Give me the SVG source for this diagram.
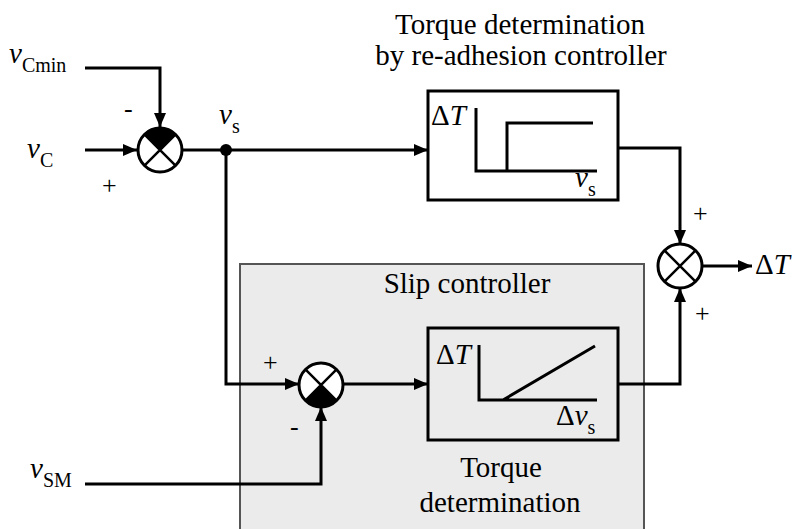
<svg xmlns="http://www.w3.org/2000/svg" width="798" height="529" viewBox="0 0 798 529">
<style>
text{font-family:'Liberation Serif','Times New Roman',Times,serif}
.t{font-size:29px;fill:#000}
.i{font-style:italic}
.sub{font-size:20px;font-style:normal}
.ln{fill:none;stroke:#000;stroke-width:3}
.sum{fill:#fff;stroke:#000;stroke-width:3}
.x{stroke:#000;stroke-width:2.5}
.sign{font-size:26px;fill:#000}
</style>
<defs>
<marker id="ah" markerUnits="userSpaceOnUse" markerWidth="16" markerHeight="14" refX="14" refY="7" orient="auto">
<path d="M0,1 L14,7 L0,13 Z" fill="#000"/>
</marker>
</defs>
<rect width="798" height="529" fill="#fff"/>
<g id="slip-controller" font-family="Liberation Serif">
<rect x="240" y="264" width="404" height="275" fill="#ebebeb" stroke="#555" stroke-width="2"/>
<text class="t" font-family="Liberation Serif" x="467" y="293" text-anchor="middle">Slip controller</text>
<text class="t" font-family="Liberation Serif" x="501" y="477" text-anchor="middle">Torque</text>
<text class="t" font-family="Liberation Serif" x="500" y="512" text-anchor="middle">determination</text>
</g>
<g id="title">
<text class="t" font-family="Liberation Serif" x="520" y="34" text-anchor="middle">Torque determination</text>
<text class="t" font-family="Liberation Serif" x="521" y="65" text-anchor="middle">by re-adhesion controller</text>
</g>
<g id="connectors">
<path class="ln" d="M85,68 H160 V127" marker-end="url(#ah)"/>
<path class="ln" d="M85,150 H137" marker-end="url(#ah)"/>
<path class="ln" d="M182,150 H428" marker-end="url(#ah)"/>
<path class="ln" d="M226,150 V384 H299" marker-end="url(#ah)"/>
<path class="ln" d="M85,484 H321 V407" marker-end="url(#ah)"/>
<path class="ln" d="M343,384 H428" marker-end="url(#ah)"/>
<path class="ln" d="M618,148 H680 V244" marker-end="url(#ah)"/>
<path class="ln" d="M618,384 H680 V288" marker-end="url(#ah)"/>
<path class="ln" d="M702,266 H752" marker-end="url(#ah)"/>
<circle cx="226" cy="150" r="6" fill="#000"/>
</g>
<g id="inputs">
<text class="t" font-family="Liberation Serif" x="9" y="63"><tspan class="i">v</tspan><tspan class="sub" dy="9">Cmin</tspan></text>
<text class="t" font-family="Liberation Serif" x="27" y="158"><tspan class="i">v</tspan><tspan class="sub" dy="9">C</tspan></text>
<text class="t" font-family="Liberation Serif" x="30" y="478"><tspan class="i">v</tspan><tspan class="sub" dy="9">SM</tspan></text>
<text class="t" font-family="Liberation Serif" x="219" y="124"><tspan class="i">v</tspan><tspan class="sub" dy="9">s</tspan></text>
</g>
<g id="sum1">
<circle class="sum" cx="160" cy="150" r="22"/>
<path d="M160,150 L144.4,134.4 A22,22 0 0 1 175.6,134.4 Z" fill="#000"/>
<path class="x" d="M144.4,134.4 L175.6,165.6 M175.6,134.4 L144.4,165.6"/>
<text class="sign" font-family="Liberation Sans" x="124" y="117">-</text>
<text class="sign" font-family="Liberation Serif" x="102" y="194">+</text>
</g>
<g id="sum2">
<circle class="sum" cx="321" cy="385" r="22"/>
<path d="M321,385 L305.4,400.6 A22,22 0 0 0 336.6,400.6 Z" fill="#000"/>
<path class="x" d="M305.4,369.4 L336.6,400.6 M336.6,369.4 L305.4,400.6"/>
<text class="sign" font-family="Liberation Serif" x="263" y="371">+</text>
<text class="sign" font-family="Liberation Sans" x="290" y="435">-</text>
</g>
<g id="sum3">
<circle class="sum" cx="680" cy="266" r="22"/>
<path class="x" d="M664.4,250.4 L695.6,281.6 M695.6,250.4 L664.4,281.6"/>
<text class="sign" font-family="Liberation Serif" x="693" y="222">+</text>
<text class="sign" font-family="Liberation Serif" x="695" y="322">+</text>
<text class="t" font-family="Liberation Serif" x="755" y="274">Δ<tspan class="i">T</tspan></text>
</g>
<g id="readhesion-block">
<rect x="428" y="91" width="190" height="109" fill="#fff" stroke="#000" stroke-width="3"/>
<path class="ln" d="M476,108 V171 H597 M507,171 V123 H593"/>
<text class="t" font-family="Liberation Serif" x="431" y="125">Δ<tspan class="i">T</tspan></text>
<text class="t" font-family="Liberation Serif" x="575" y="187"><tspan class="i">v</tspan><tspan class="sub" dy="9">s</tspan></text>
</g>
<g id="slip-block">
<rect x="428" y="328" width="190" height="112" fill="none" stroke="#000" stroke-width="3"/>
<path class="ln" d="M479,345 V400 H597 M503,400 L595,346"/>
<text class="t" font-family="Liberation Serif" x="436" y="364">Δ<tspan class="i">T</tspan></text>
<text class="t" font-family="Liberation Serif" x="556" y="425">Δ<tspan class="i">v</tspan><tspan class="sub" dy="9">s</tspan></text>
</g>
</svg>
